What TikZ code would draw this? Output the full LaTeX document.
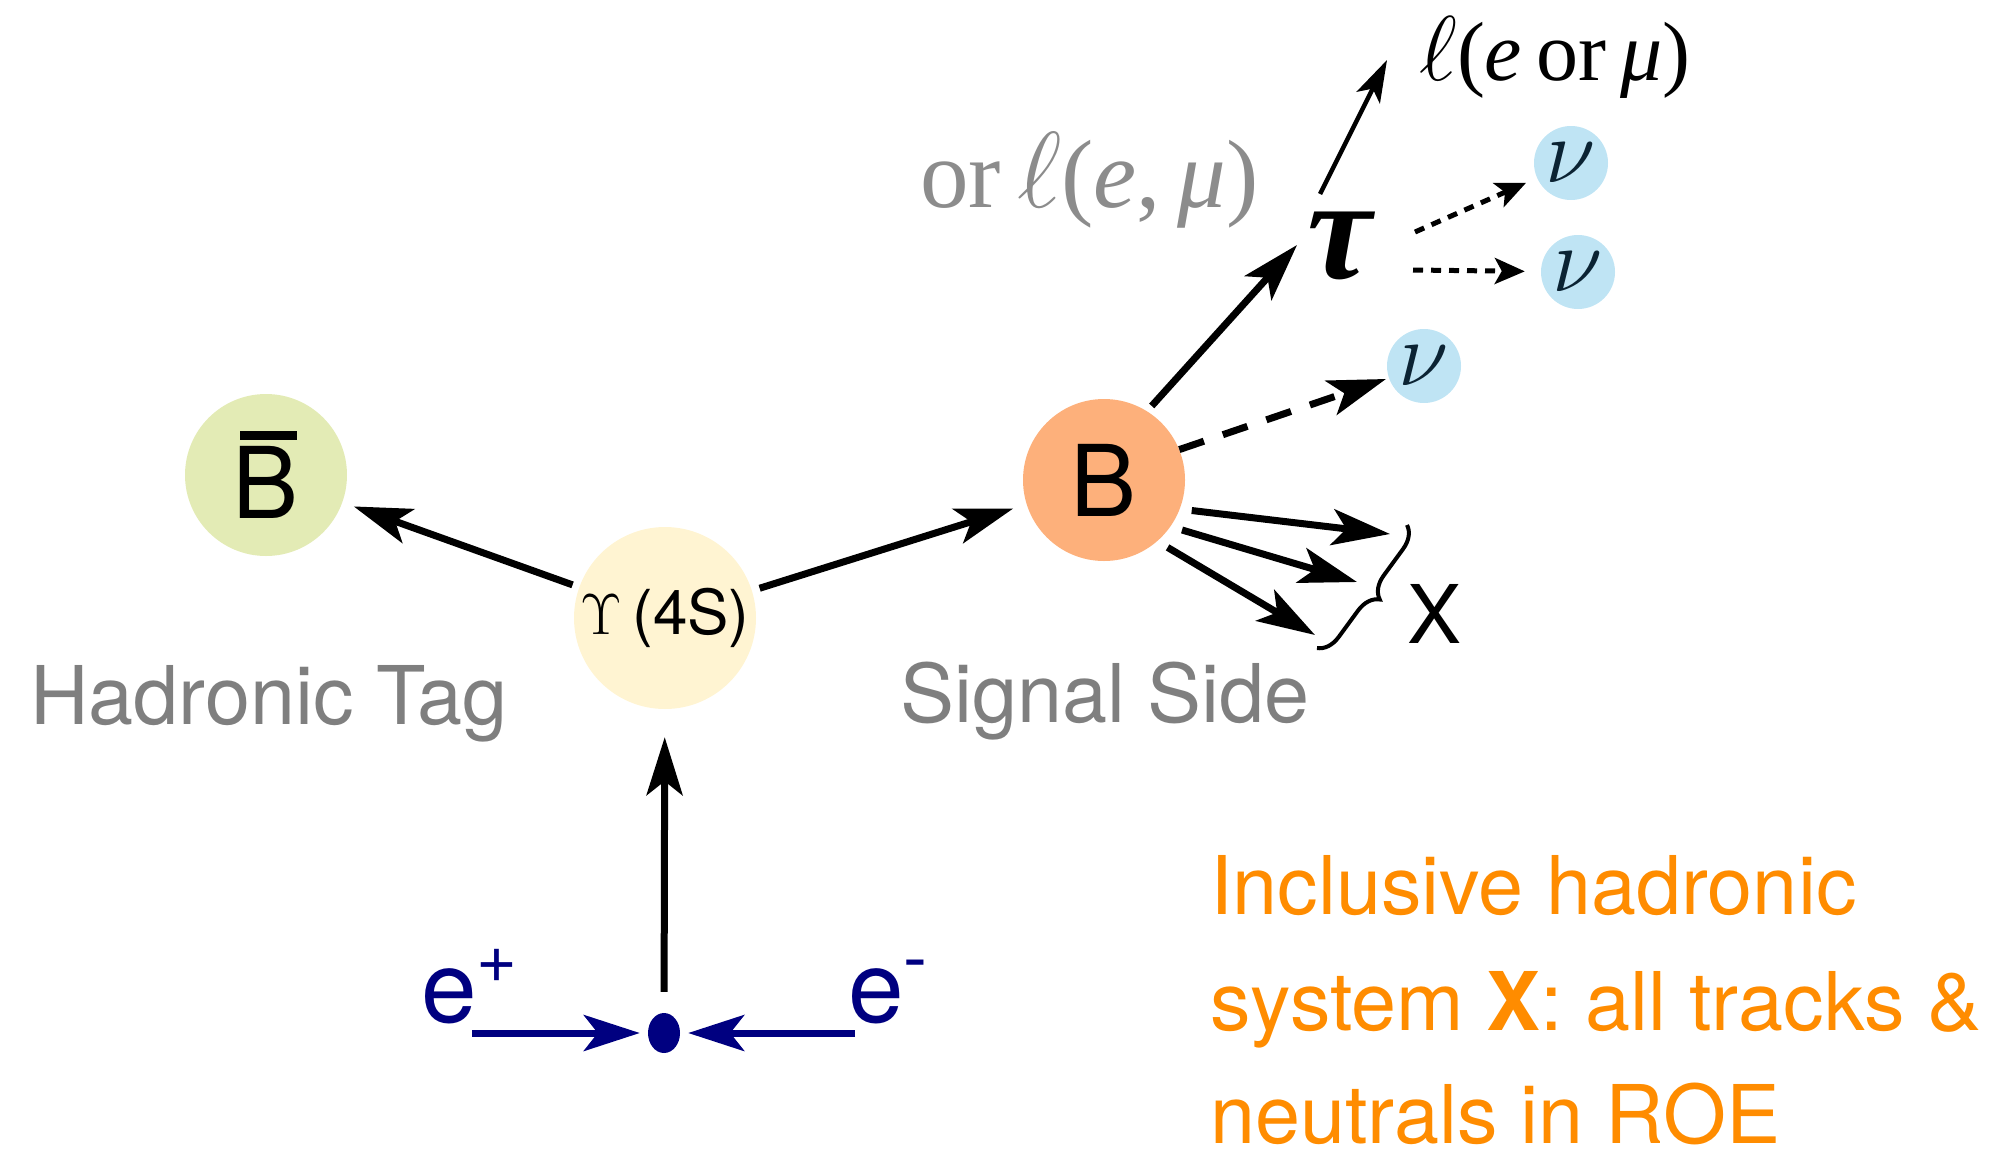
\RequirePackage{fix-cm}
\documentclass[tikz,border=0pt]{standalone}
\usepackage{fontspec}
\setmainfont{TeX Gyre Heros}
\newfontfamily\timesfont{Liberation Serif}
\usetikzlibrary{arrows.meta,calc,decorations.pathreplacing,shapes.geometric}
\definecolor{bbarfill}{HTML}{E3EBB5}
\definecolor{upsfill}{HTML}{FFF4D2}
\definecolor{bfill}{HTML}{FDB07B}
\definecolor{nufill}{HTML}{BFE4F4}
\definecolor{nucol}{HTML}{0B2333}
\definecolor{graytxt}{HTML}{7F7F7F}
\definecolor{graytwo}{HTML}{8C8C8C}
\definecolor{navy}{HTML}{000080}
\definecolor{orangetxt}{HTML}{FF8C00}
\begin{document}
\begin{tikzpicture}[x=1pt,y=-1pt,
  ball/.style={circle,inner sep=0pt,minimum size=#1},
  arr/.style={line width=7pt,-{Stealth[length=58pt,width=36pt,inset=14pt]}},
  thinarr/.style={line width=4.5pt,-{Stealth[length=42pt,width=26pt,inset=10pt]}},
  dotarr/.style={line width=5pt,dash pattern=on 10pt off 8pt,-{Stealth[length=30pt,width=26pt,inset=7pt]}},
  dasharr/.style={line width=7pt,dash pattern=on 26pt off 20pt,-{Stealth[length=58pt,width=36pt,inset=14pt]}},
  navyarr/.style={line width=7pt,draw=navy,-{Stealth[length=56pt,width=36pt,inset=14pt]}},
  bigsans/.style={font=\fontsize{81}{96}\selectfont},
  nutext/.style={text=nucol,font=\fontsize{92}{92}\selectfont},
  lbl/.style={anchor=base west,inner sep=0pt}]
\useasboundingbox (0,0) rectangle (1999,1154);

% particles
\node[ball=162pt,fill=bbarfill] (bbar) at (266,475)
  {\fontsize{99}{110}\selectfont\makebox[0pt][l]{\hspace{0.07em}\rule[0.79em]{0.58em}{0.09em}}B};
\node[ball=182pt,fill=upsfill] (ups) at (665,618)
  {\fontsize{58}{70}\selectfont$\Upsilon$\fontsize{62}{70}\selectfont\,(4S)};
\node[ball=162pt,fill=bfill] (B) at (1104,480) {\fontsize{99}{110}\selectfont B};
\node[ball=74pt,fill=nufill,nutext] (nu1) at (1571,163) {$\nu$};
\node[ball=74pt,fill=nufill,nutext] (nu2) at (1578,272) {$\nu$};
\node[ball=74pt,fill=nufill,nutext] (nu3) at (1424,366) {$\nu$};
\node[inner sep=2pt,font=\fontsize{145}{145}\selectfont\timesfont\bfseries\itshape] (tau) at (1340,246) {τ};
\node[lbl] (ell) at (1419,80)
  {\fontsize{92}{100}\selectfont$\ell$\fontsize{84}{100}\selectfont\timesfont(\textit{e}\,or\,\textit{μ})};
\node[lbl,text=graytwo] (orell) at (920,207)
  {\fontsize{97}{110}\selectfont\timesfont or\,\fontsize{108}{110}\selectfont$\ell$\fontsize{97}{110}\selectfont(\textit{e},\,\textit{μ})};
\node[ellipse,fill=navy,minimum width=32pt,minimum height=40pt,inner sep=0pt] (dot) at (664,1033) {};

% labels
\node[lbl,text=graytxt,bigsans] (had) at (30,724) {Hadronic Tag};
\node[lbl,text=graytxt,bigsans] (sig) at (900,722) {Signal Side};
\node[bigsans,inner sep=0pt] (X) at (1434,614) {X};
\node[lbl,text=navy,font=\fontsize{100}{110}\selectfont] (eplus) at (421,1022)
  {e\raisebox{40pt}{\fontsize{70}{70}\selectfont +}};
\node[lbl,text=navy,font=\fontsize{100}{110}\selectfont] (eminus) at (848,1022)
  {e\raisebox{40pt}{\fontsize{72}{72}\selectfont -}};
\node[lbl,text=orangetxt,bigsans] (inc1) at (1210,914) {Inclusive hadronic};
\node[lbl,text=orangetxt,bigsans] (inc2) at (1210,1030) {system \textbf{X}: all tracks \&};
\node[lbl,text=orangetxt,bigsans] (inc3) at (1210,1143) {neutrals in ROE};

% free ends
\coordinate (xa) at (1390,534);
\coordinate (xb) at (1357,582);
\coordinate (xc) at (1315,635);
\coordinate (bt) at (1407,525);
\coordinate (bb) at (1317,648);
\coordinate (epstart) at (472,1033);
\coordinate (emstart) at (855,1033);

% connectors
\draw[arr,shorten <=7pt,shorten >=12pt] (ups) -- (bbar);
\draw[arr,shorten <=8pt,shorten >=14pt] (ups) -- (B);
\draw[arr,shorten <=21pt,shorten >=28pt] (dot) -- (ups);
\draw[arr,shorten <=7pt] (B.58) -- ($(tau)+(-43,-1)$);
\draw[thinarr] ($(tau)+(-20,-52)$) -- ($(ell.base west)+(-32,-20)$);
\draw[dotarr,shorten >=12pt] ($(tau)+(75,-14)$) -- (nu1);
\draw[dotarr,shorten >=16pt] ($(tau)+(73,24)$) -- (nu2);
\draw[dasharr,shorten >=3pt] (B.22) -- (nu3);
\draw[arr,shorten <=12pt] (B.-21) -- (xa);
\draw[arr,shorten <=12pt] (B.-35) -- (xb);
\draw[arr,shorten <=12pt] (B.-49) -- (xc);
\draw[line width=4pt,decorate,decoration={brace,amplitude=22pt}] (bt) -- (bb);
\draw[navyarr,shorten >=8pt] (epstart) -- (dot);
\draw[navyarr,shorten >=8pt] (emstart) -- (dot);
\end{tikzpicture}
\end{document}
